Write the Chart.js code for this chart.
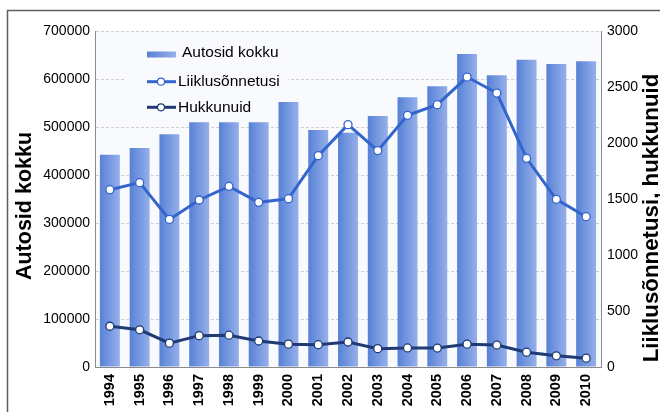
<!DOCTYPE html>
<html>
<head>
<meta charset="utf-8">
<script src="https://cdn.jsdelivr.net/npm/chart.js@4/dist/chart.umd.min.js"></script>
<style>
  html, body { margin: 0; padding: 0; background: #ffffff; }
  #wrap { width: 660px; height: 412px; }
</style>
</head>
<body>
<div id="wrap"><canvas id="c" width="660" height="412"></canvas></div>
<script>
const years = ['1994','1995','1996','1997','1998','1999','2000','2001','2002','2003','2004','2005','2006','2007','2008','2009','2010'];
const autosidKokku = [442000, 456000, 485000, 510000, 510000, 510000, 552000, 494000, 488000, 523000, 562000, 585000, 652000, 608000, 640000, 631000, 637000];
const liiklusonnetusi = [1583, 1646, 1318, 1491, 1613, 1470, 1503, 1887, 2164, 1932, 2247, 2342, 2589, 2446, 1863, 1497, 1342];
const hukkunuid = [364, 332, 213, 280, 284, 232, 204, 199, 223, 164, 170, 169, 204, 196, 132, 100, 79];
const leftTicksMax = 700000, leftStep = 100000;
const rightTicksMax = 3000, rightStep = 500;
const leftTitle = 'Autosid kokku';
const rightTitle = 'Liiklusõnnetusi, hukkunuid';

const FONT = '"Liberation Sans", Arial, Helvetica, sans-serif';
const BAR_L = '#5781d6', BAR_R = '#96b0ea';
const C_LIIK = '#3465cc', C_HUKK = '#1f3a75';
const BAR_PCT = 0.67;

function barGradient(ctx) {
  const chart = ctx.chart;
  const xs = chart.scales && chart.scales.x;
  if (!chart.chartArea || !xs || ctx.dataIndex === undefined) return BAR_L;
  const c = xs.getPixelForValue(ctx.dataIndex);
  const hw = (xs.width / years.length) * BAR_PCT / 2;
  const g = chart.ctx.createLinearGradient(c - hw, 0, c + hw, 0);
  g.addColorStop(0, BAR_L);
  g.addColorStop(1, BAR_R);
  return g;
}

const framePlugin = {
  id: 'frame',
  beforeDraw(chart) {
    const { ctx, chartArea: a } = chart;
    ctx.save();
    ctx.fillStyle = '#f9fafd';
    ctx.fillRect(a.left, a.top, a.right - a.left, a.bottom - a.top);
    ctx.restore();
  },
  beforeDatasetsDraw(chart) {
    const { ctx } = chart;
    ctx.save();
    ctx.fillStyle = '#f9fafd';
    ctx.fillRect(124, 38, 164, 82);
    ctx.restore();
  },
  afterDraw(chart) {
    const { ctx } = chart;
    ctx.save();
    ctx.strokeStyle = '#5e5e5e';
    ctx.lineWidth = 1.5;
    ctx.strokeRect(7.5, 10.5, 700, 500);
    ctx.fillStyle = '#000';
    ctx.textAlign = 'center';
    ctx.textBaseline = 'alphabetic';
    ctx.font = 'bold 21.5px ' + FONT;
    ctx.translate(31, 206);
    ctx.rotate(-Math.PI / 2);
    ctx.fillText(leftTitle, 0, 0);
    ctx.restore();
    ctx.save();
    ctx.fillStyle = '#000';
    ctx.textAlign = 'center';
    ctx.font = 'bold 22.3px ' + FONT;
    ctx.translate(658, 218);
    ctx.rotate(-Math.PI / 2);
    ctx.fillText(rightTitle, 0, 0);
    ctx.restore();

    const ds = chart.data.datasets;
    ctx.save();
    ctx.font = '15.5px ' + FONT;
    ctx.textBaseline = 'middle';
    ctx.textAlign = 'left';
    const g = ctx.createLinearGradient(147, 0, 176, 0);
    g.addColorStop(0, BAR_L); g.addColorStop(1, BAR_R);
    ctx.fillStyle = g;
    ctx.fillRect(147, 51.5, 29, 6);
    ctx.fillStyle = '#000';
    ctx.fillText(ds[0].label, 182, 53);
    const items = [[ds[1], 81.7], [ds[2], 107.3]];
    items.forEach(([d, y]) => {
      ctx.strokeStyle = d.borderColor;
      ctx.lineWidth = 3;
      ctx.beginPath(); ctx.moveTo(147, y); ctx.lineTo(176, y); ctx.stroke();
      ctx.beginPath(); ctx.arc(161, y, 3.5, 0, Math.PI * 2);
      ctx.fillStyle = '#fff'; ctx.fill();
      ctx.lineWidth = 1.2; ctx.stroke();
      ctx.fillStyle = '#000';
      ctx.fillText(d.label, 178, y + 0.5);
    });
    ctx.restore();
  }
};

new Chart(document.getElementById('c'), {
  data: {
    labels: years,
    datasets: [
      {
        type: 'bar', label: 'Autosid kokku', data: autosidKokku, yAxisID: 'y',
        backgroundColor: barGradient, borderWidth: 0,
        barPercentage: BAR_PCT, categoryPercentage: 1, order: 3
      },
      {
        type: 'line', label: 'Liiklusõnnetusi', data: liiklusonnetusi, yAxisID: 'y2',
        borderColor: C_LIIK, borderWidth: 3, tension: 0,
        pointRadius: 4, pointBackgroundColor: '#fff', pointBorderColor: C_LIIK, pointBorderWidth: 1.3,
        order: 1
      },
      {
        type: 'line', label: 'Hukkunuid', data: hukkunuid, yAxisID: 'y2',
        borderColor: C_HUKK, borderWidth: 3, tension: 0,
        pointRadius: 4, pointBackgroundColor: '#fff', pointBorderColor: C_HUKK, pointBorderWidth: 1.3,
        order: 2
      }
    ]
  },
  options: {
    responsive: false,
    animation: false,
    events: [],
    layout: { padding: { top: 31, left: 0, right: 0, bottom: 0 } },
    plugins: { legend: { display: false }, tooltip: { enabled: false }, title: { display: false } },
    scales: {
      x: {
        offset: true,
        grid: { display: false, drawTicks: false },
        border: { display: true, color: '#8a8a8a', width: 1 },
        ticks: {
          minRotation: 90, maxRotation: 90, padding: 7, color: '#000', autoSkip: false,
          font: { family: FONT, size: 14.5, weight: 'bold' }
        },
        afterFit(s) { s.height = 45; }
      },
      y: {
        position: 'left', min: 0, max: leftTicksMax,
        grid: { color: '#cfcfcf', drawTicks: false, lineWidth: 1 },
        border: { display: true, color: '#8a8a8a', width: 1, dash: [3, 2] },
        ticks: { stepSize: leftStep, padding: 5, color: '#000', font: { family: FONT, size: 14 },
                 callback: v => String(v) },
        afterFit(s) { s.width = 95; }
      },
      y2: {
        position: 'right', min: 0, max: rightTicksMax,
        grid: { display: false, drawTicks: false },
        border: { display: true, color: '#8a8a8a', width: 1 },
        ticks: { stepSize: rightStep, padding: 6, color: '#000', font: { family: FONT, size: 14 },
                 callback: v => String(v) },
        afterFit(s) { s.width = 59; }
      }
    }
  },
  plugins: [framePlugin]
});
</script>
</body>
</html>
